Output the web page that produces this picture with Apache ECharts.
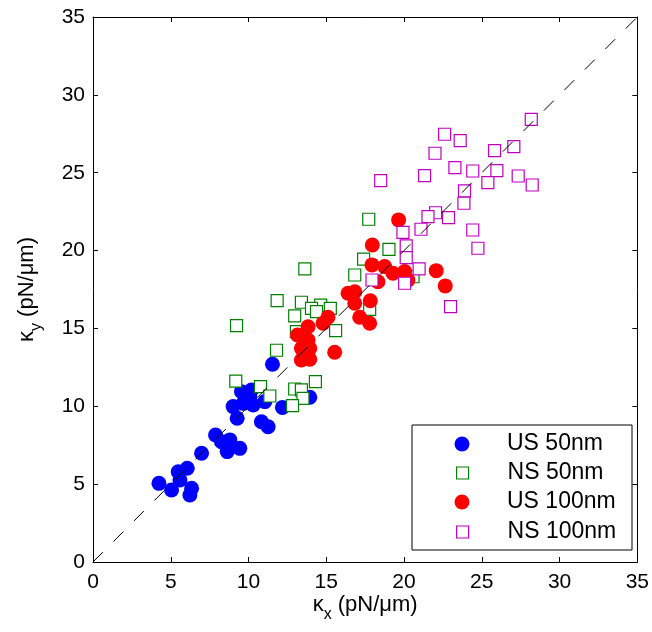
<!DOCTYPE html>
<html>
<head>
<meta charset="utf-8">
<script src="https://cdn.jsdelivr.net/npm/echarts@6/dist/echarts.min.js"></script>
<style>html,body{margin:0;padding:0;background:#fff}#c{width:652px;height:632px}</style>
</head>
<body>
<div id="c"></div>
<script>
var seriesNames = ['US 50nm', 'NS 50nm', 'US 100nm', 'NS 100nm'];
var xTicks = [0, 5, 10, 15, 20, 25, 30, 35];
var us50 = [[4.24,5.05],[5.05,4.62],[5.48,5.8],[6.06,6.02],[5.59,5.27],[6.34,4.73],[6.23,4.3],[6.98,6.98],[7.88,8.16],[8.26,7.73],[8.8,7.84],[8.63,7.09],[9.44,7.3],[9.27,9.23],[9.01,9.98],[9.55,10.94],[10.08,10.62],[10.3,10.08],[9.66,10.19],[10.19,11.05],[11.05,10.3],[10.83,9.01],[11.26,8.69],[12.18,9.93],[11.54,12.7],[13.94,10.58]];
var ns50 = [[9.23,15.18],[11.8,13.6],[9.18,11.62],[10.77,11.26],[11.37,10.66],[12.97,11.11],[13.4,11.05],[13.5,10.51],[12.83,10.04],[14.3,11.58],[17.73,22.01],[13.62,18.82],[19.03,20.08],[17.4,19.45],[16.83,18.43],[11.84,16.78],[13.4,16.68],[14.64,16.5],[15.26,16.29],[14.05,16.29],[14.37,16.08],[12.97,15.8],[17.79,16.23],[15.6,14.86],[13.08,14.79],[20.58,18.32]];
var us100 = [[19.65,21.97],[17.96,20.36],[22.07,18.71],[22.65,17.73],[17.94,19.08],[18.75,18.97],[19.29,18.54],[20.04,18.65],[20.25,18.11],[18.32,18.0],[16.4,17.26],[16.83,17.36],[16.83,16.62],[17.83,16.78],[17.15,15.72],[17.79,15.33],[15.11,15.72],[14.79,15.33],[13.83,15.11],[13.15,14.58],[13.83,14.26],[13.94,13.72],[13.4,13.72],[13.94,13.02],[13.4,12.97],[15.54,13.47]];
var ns100 = [[28.18,28.43],[22.61,27.47],[23.61,27.06],[21.99,26.25],[25.82,26.42],[27.06,26.67],[23.27,25.33],[24.42,25.11],[25.97,25.13],[21.32,24.81],[25.39,24.36],[27.34,24.79],[28.24,24.21],[18.5,24.49],[23.89,23.83],[23.85,23.04],[22.03,22.43],[21.54,22.18],[22.86,22.11],[21.09,21.37],[24.42,21.32],[19.93,21.17],[20.14,20.3],[20.14,19.55],[24.75,20.15],[20.97,18.82],[20.04,17.9],[22.99,16.4],[17.94,18.11]];
var diagLine = [[0,0],[35,35]];

var colors = ['#0000ff', '#008000', '#ff0000', '#bf00bf'];
var symbols = ['circle', 'rect', 'circle', 'rect'];
var sizes = [15, 12, 15, 12];
var datasets = [us50, ns50, us100, ns100];

var chart = echarts.init(document.getElementById('c'), null, {renderer: 'canvas'});
var FONT = 'Liberation Sans, Arial, Helvetica, sans-serif';

function axisCommon(pos, showLabel) {
  return {
    type: 'value', min: 0, max: 35, interval: 5, position: pos,
    axisLine: {show: true, onZero: false, lineStyle: {color: '#000', width: 1}},
    axisTick: {show: true, inside: true, length: 5, lineStyle: {color: '#000', width: 1}},
    axisLabel: {show: showLabel, color: '#000', fontSize: 21, fontFamily: FONT, margin: pos === 'bottom' ? 10 : 8},
    splitLine: {show: false}
  };
}

var subRich = {s: {fontSize: 16, fontFamily: FONT, color: '#000', padding: [20, 0, 0, 0]}};
var xa = axisCommon('bottom', true);
xa.name = 'κ{s|x} (pN/μm)';
xa.nameLocation = 'middle';
xa.nameGap = 25;
xa.nameMoveOverlap = false;
xa.nameTextStyle = {color: '#000', fontSize: 22, fontFamily: FONT, rich: subRich};
var xb = axisCommon('top', false);

var ya = axisCommon('left', true);
ya.name = 'κ{s|y} (pN/μm)';
ya.nameLocation = 'middle';
ya.nameGap = 48;
ya.nameMoveOverlap = false;
ya.nameTextStyle = {color: '#000', fontSize: 22, fontFamily: FONT, rich: subRich};
var yb = axisCommon('right', false);

var series = datasets.map(function (d, i) {
  var filled = symbols[i] === 'circle';
  return {
    name: seriesNames[i], type: 'scatter', data: d,
    symbol: symbols[i], symbolSize: sizes[i], z: 2 + i * 0.1,
    itemStyle: filled ? {color: colors[i], opacity: 1} : {color: '#ffffff', borderColor: colors[i], borderWidth: 1.2, opacity: 1},
    emphasis: {disabled: true}
  };
});
series.push({
  name: 'diag', type: 'line', data: diagLine, symbol: 'none', z: 3, silent: true,
  lineStyle: {color: '#000', width: 1, type: [14, 15]}
});

var centersY = [444, 473, 502, 532];
var legends = seriesNames.map(function (n, i) {
  var w = sizes[i];
  return {
    data: [n], orient: 'vertical', left: 462 - w / 2, top: centersY[i] - 12,
    padding: 0, itemWidth: w, itemHeight: w, selectedMode: false,
    itemStyle: {borderWidth: 'inherit'},
    textStyle: {color: '#000', fontSize: 23, fontFamily: FONT, lineHeight: 24, padding: [0, 0, 0, 507 - (462 + w / 2) - 5]}
  };
});

chart.setOption({
  animation: false,
  backgroundColor: '#fff',
  grid: {left: 93, right: 14, top: 17, bottom: 70, containLabel: false},
  xAxis: [xa, xb],
  yAxis: [ya, yb],
  legend: legends,
  graphic: [{type: 'rect', shape: {x: 412, y: 425, width: 220, height: 125}, style: {fill: '#fff', stroke: '#000', lineWidth: 1}, z: 3}],
  series: series
});
</script>
</body>
</html>
